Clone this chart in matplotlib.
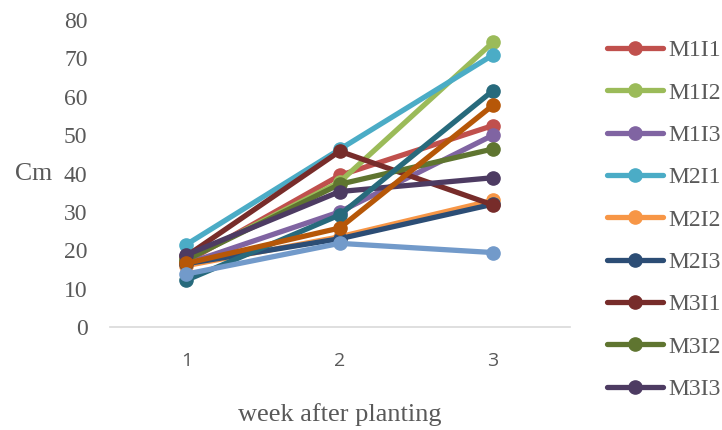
import matplotlib.pyplot as plt

# plant height (cm) per treatment over the first three weeks
weeks = [1, 2, 3]
names = ['M1I1', 'M1I2', 'M1I3', 'M2I1', 'M2I2', 'M2I3', 'M3I1', 'M3I2', 'M3I3',
         'M4I1', 'M4I2', 'M4I3']
m1i1 = [17.0, 39.5, 52.5]
m1i2 = [17.5, 37.8, 74.2]
m1i3 = [16.5, 30.0, 50.0]
m2i1 = [21.5, 46.3, 70.9]
m2i2 = [16.0, 23.5, 33.0]
m2i3 = [16.5, 23.0, 32.0]
m3i1 = [18.5, 45.8, 31.8]
m3i2 = [17.5, 37.2, 46.4]
m3i3 = [18.8, 35.3, 38.9]
m4i1 = [12.2, 29.2, 61.6]
m4i2 = [16.6, 25.8, 57.8]
m4i3 = [13.8, 21.8, 19.4]
series = [m1i1, m1i2, m1i3, m2i1, m2i2, m2i3, m3i1, m3i2, m3i3, m4i1, m4i2, m4i3]

colors = ['#C0504D', '#9BBB59', '#8064A2', '#4BACC6', '#F79646', '#2C4D75',
          '#772C2A', '#5F7530', '#4D3B62', '#276A7C', '#B65708', '#729ACA']

fig = plt.figure(figsize=(7.22, 4.30), dpi=100)
ax = fig.add_axes([0.152, 0.2395, 0.637, 0.714])

lines = []
for name, vals, c in zip(names, series, colors):
    ln, = ax.plot(weeks, vals, color=c, lw=3.8, marker='o', ms=9.5,
                  solid_capstyle='round', label=name)
    lines.append(ln)

ax.set_xlim(0.5, 3.5)
ax.set_ylim(0, 80)
ax.set_yticks(range(0, 81, 10))
ax.set_xticks(weeks)

for side in ['top', 'right', 'left']:
    ax.spines[side].set_visible(False)
ax.spines['bottom'].set_color('#D9D9D9')
ax.spines['bottom'].set_linewidth(1.2)
ax.tick_params(length=0)
ax.tick_params(axis='y', pad=16, labelsize=17, labelcolor='#595959')
ax.tick_params(axis='x', pad=18, labelsize=14, labelcolor='#595959')
for t in ax.get_yticklabels():
    t.set_family('Liberation Serif')
for t in ax.get_xticklabels():
    t.set_family('Open Sans')

ax.set_ylabel('Cm', rotation=0, family='Liberation Serif', fontsize=18.5,
              color='#595959', va='center', ha='center')
ax.yaxis.set_label_coords(-0.165, 0.5)
ax.set_xlabel('week after planting', family='Liberation Serif', fontsize=19,
              color='#595959', labelpad=24)

# only the first nine series are listed in the legend
leg = ax.legend(handles=lines[:9], loc='upper left', bbox_to_anchor=(1.06, 0.966),
                frameon=False, prop={'family': 'Liberation Serif', 'size': 17},
                handlelength=2.4, handletextpad=0.2, labelspacing=0.88,
                borderaxespad=0)
for t in leg.get_texts():
    t.set_color('#595959')

fig.savefig('out.png', dpi=100)
